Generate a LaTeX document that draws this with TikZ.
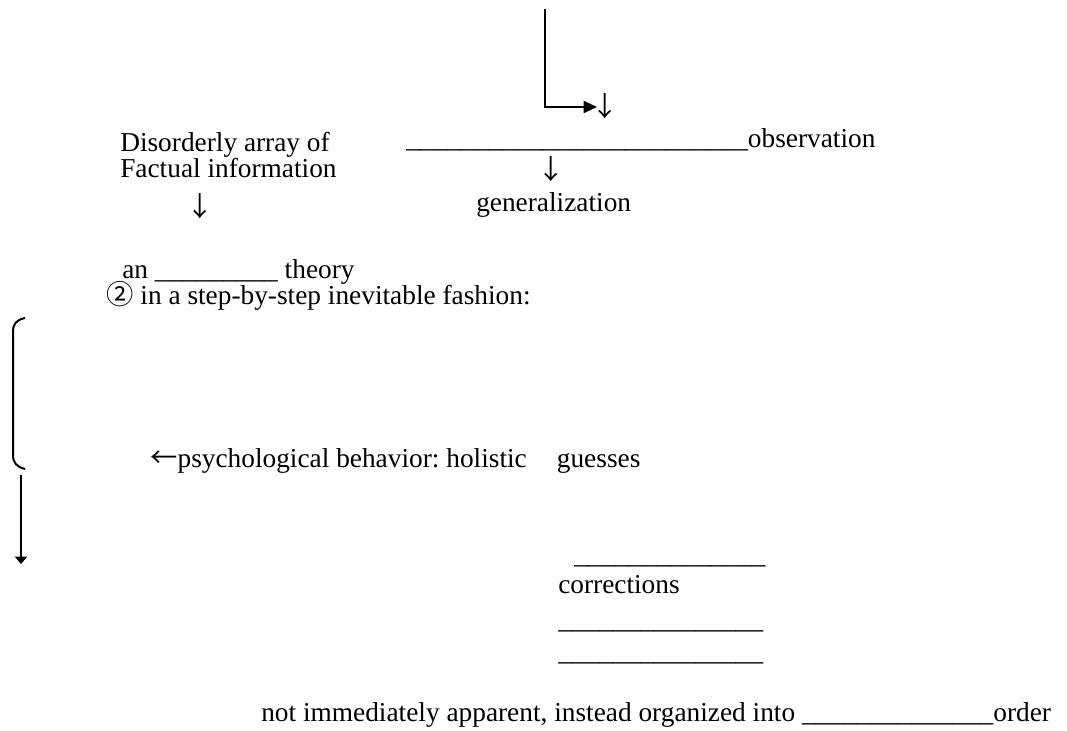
\documentclass[tikz,border=0pt]{standalone}
\usepackage{fontspec}
\setmainfont{Liberation Serif}
\newfontfamily\cjkfont{Noto Sans CJK JP}
\usetikzlibrary{arrows.meta}
\begin{document}
\begin{tikzpicture}[x=0.75pt,y=-0.75pt,
  txt/.style={anchor=base west, inner sep=0pt, font=\fontsize{20.5}{24}\selectfont\frenchspacing},
  arr/.style={anchor=base, inner sep=0pt, font=\fontsize{20.5}{24}\selectfont\cjkfont},
  ln/.style={line width=1.5pt, black},
  elbowarrow/.style={ln, -{Triangle[length=10pt,width=9pt]}},
  downarrow/.style={ln, -{Triangle[length=5.5pt,width=9pt]}}]
\useasboundingbox (0,0) rectangle (1067,731);
% top-left block
\node[txt] (dis) at (120,152) {Disorderly array of};
\node[txt] (fact) at (120,178) {Factual information};
\node[arr] (arrL) at (200,216) {↓};
\node[txt] (an) at (122,278) {an \_\_\_\_\_\_\_\_\_ theory};
\node[txt] (step) at (106,304) {{\cjkfont ②} in a step-by-step inevitable fashion:};
% top-right block
\node[arr] (arrT) at (605,117) {↓};
\node[txt] (obs) at (406,148) {\_\_\_\_\_\_\_\_\_\_\_\_\_\_\_\_\_\_\_\_\_\_\_\_\_observation};
\node[arr] (arrM) at (551,180) {↓};
\node[txt] (gen) at (476,211) {generalization};
% elbow arrow
\coordinate (t0) at (545,9);
\coordinate (t1) at (545,107);
\draw[elbowarrow, shorten >=6pt] (t0) -- (t1) -- (t1 -| arrT.center);
% bracket
\coordinate (b0) at (25,318);
\coordinate (b1) at (25,469);
\draw[ln] (b0) .. controls (16,320) and (13,324) .. (13,332) -- (13,455) .. controls (13,463) and (17,467) .. (b1);
% down arrow
\coordinate (d0) at (21,475);
\coordinate (d1) at (21,564);
\draw[downarrow] (d0) -- (d1);
% middle text
\node[txt] (psych) at (150,467) {{\cjkfont ←}psychological behavior: holistic\hspace{1.1em}guesses};
% corrections block
\node[txt] (u1) at (574,563) {\_\_\_\_\_\_\_\_\_\_\_\_\_\_};
\node[txt] (corr) at (558,593) {corrections};
\node[txt] (u2) at (558,628) {\_\_\_\_\_\_\_\_\_\_\_\_\_\_\_};
\node[txt] (u3) at (558,660) {\_\_\_\_\_\_\_\_\_\_\_\_\_\_\_};
% bottom line
\node[txt] (bot) at (261,721) {not immediately apparent, instead organized into \_\_\_\_\_\_\_\_\_\_\_\_\_\_order};
\end{tikzpicture}
\end{document}
